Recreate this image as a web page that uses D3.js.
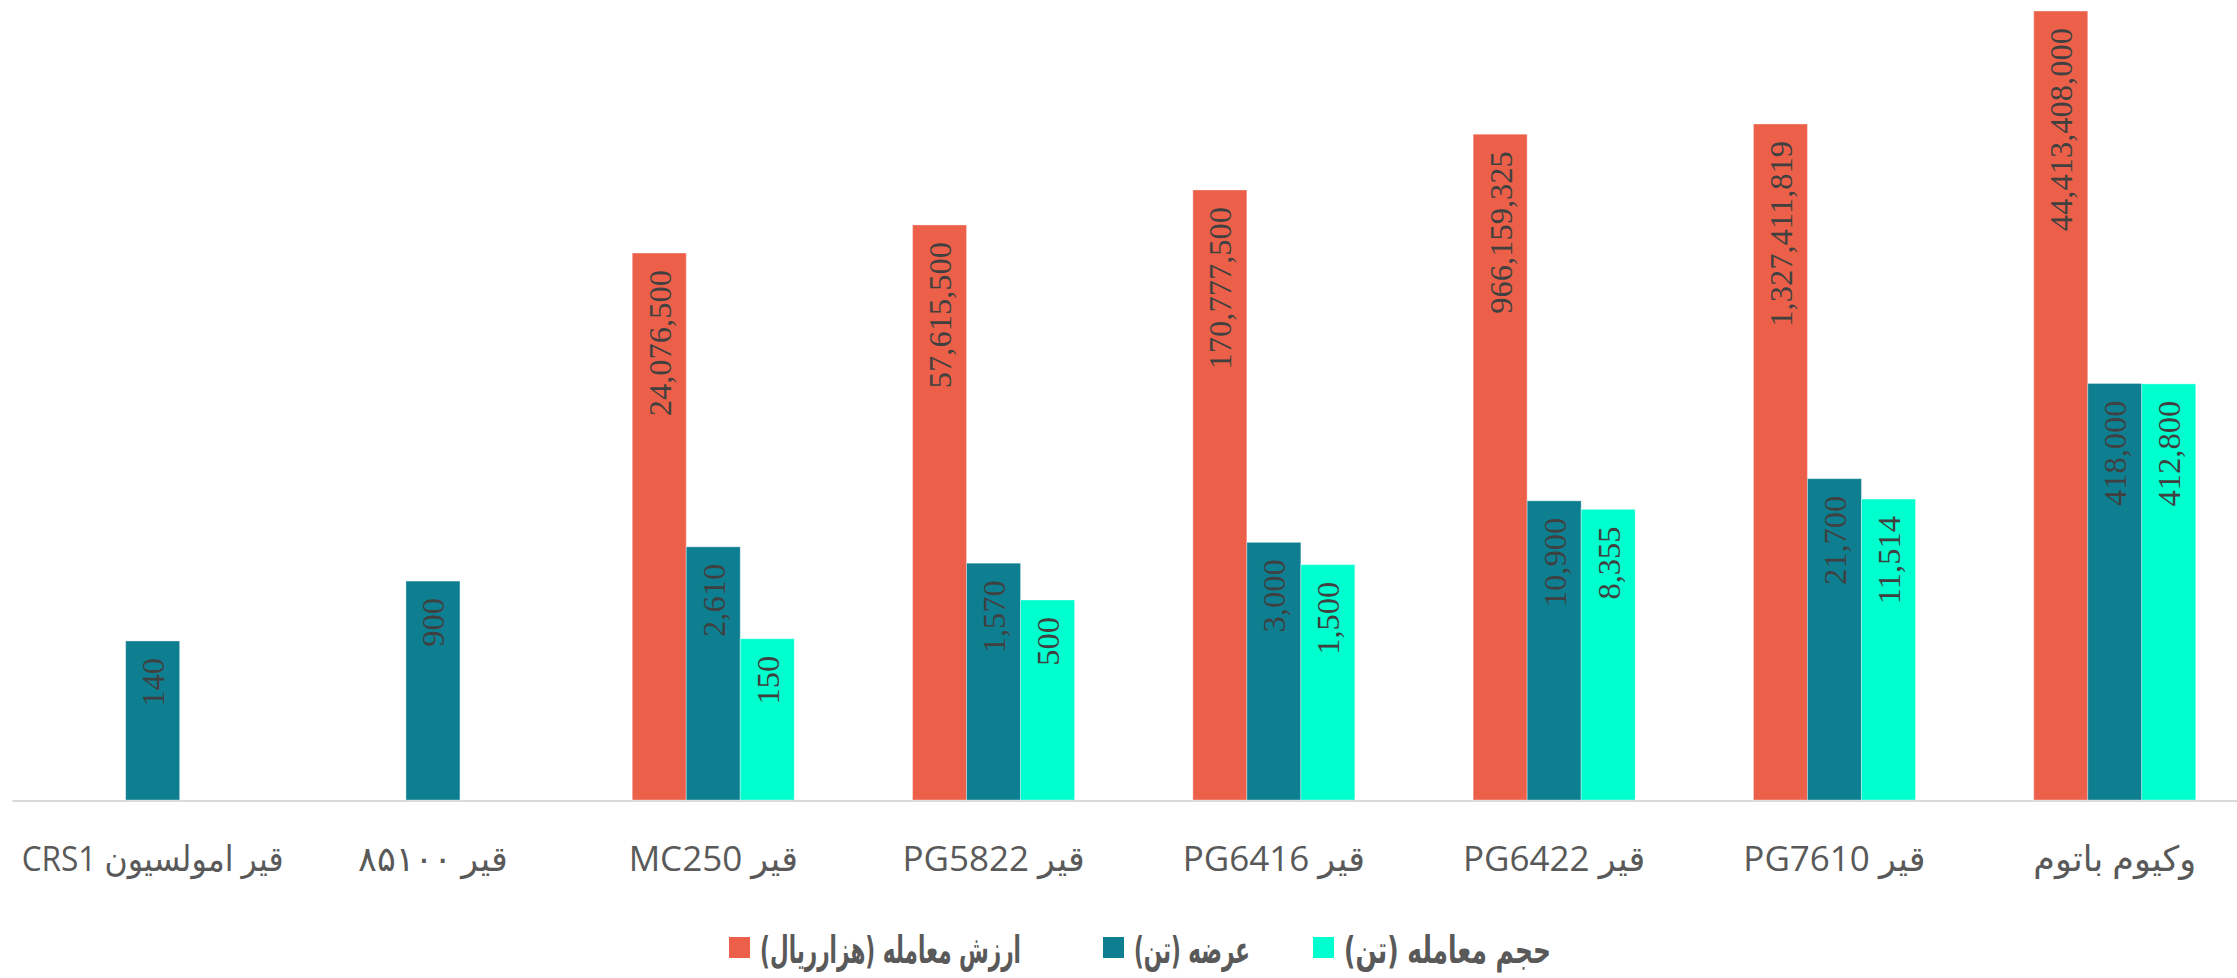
<!DOCTYPE html>
<html>
<head>
<meta charset="utf-8">
<script src="https://cdn.jsdelivr.net/npm/d3@7"></script>
<style>
  html, body { margin: 0; padding: 0; background: #ffffff; }
  svg { display: block; }
</style>
</head>
<body>
<svg id="chart" width="2237" height="978"></svg>
<script>
// ---- data ----
const categories = [
  "قیر امولسیون CRS1",
  "قیر ۸۵۱۰۰",
  "قیر MC250",
  "قیر PG5822",
  "قیر PG6416",
  "قیر PG6422",
  "قیر PG7610",
  "وکیوم باتوم"
];
const seriesNames = ["ارزش معامله (هزارریال)", "عرضه (تن)", "حجم معامله (تن)"];
const tradeValue = [null, null, 24076500, 57615500, 170777500, 966159325, 1327411819, 44413408000];
const supply     = [140, 900, 2610, 1570, 3000, 10900, 21700, 418000];
const tradeVolume = [null, null, 150, 500, 1500, 8355, 11514, 412800];
const seriesValues = [tradeValue, supply, tradeVolume];
const legendOrder = [0, 1, 2];

// ---- styles ----
const colors = ["#ec6049", "#0e7f91", "#00ffcf"];
const W = 2237, H = 978;
const baseY = 800;
const pxPerDecade = 74.1;
const plotLeft = 12.5, catStep = 280.3;
const barW = 54;

const svg = d3.select("#chart");

const x0 = d3.scaleBand()
  .domain(categories)
  .range([plotLeft, plotLeft + catStep * categories.length])
  .paddingInner(0).paddingOuter(0);

const groupW = barW * 3;
const x1 = d3.scaleBand()
  .domain(d3.range(seriesNames.length))
  .range([(catStep - groupW) / 2, (catStep - groupW) / 2 + groupW])
  .padding(0);

const y = d3.scaleLog()
  .domain([1, 1e11])
  .range([baseY, baseY - 11 * pxPerDecade]);

// flatten
const bars = [];
categories.forEach((c, i) => {
  seriesValues.forEach((arr, s) => {
    const v = arr[i];
    if (v != null) bars.push({ cat: c, s, v });
  });
});

// axis line
svg.append("line")
  .attr("x1", plotLeft).attr("x2", W)
  .attr("y1", baseY + 1).attr("y2", baseY + 1)
  .attr("stroke", "#d9d9d9").attr("stroke-width", 2);

// bars
svg.append("g").selectAll("rect").data(bars).join("rect")
  .attr("x", d => x0(d.cat) + x1(d.s))
  .attr("width", x1.bandwidth())
  .attr("y", d => y(d.v))
  .attr("height", d => baseY - y(d.v))
  .attr("fill", d => colors[d.s])
  .attr("stroke", "rgba(255,255,255,0.35)")
  .attr("stroke-width", 1);

// data labels
const fmt = d3.format(",");
svg.append("g").selectAll("text").data(bars).join("text")
  .attr("transform", d => {
    const cx = x0(d.cat) + x1(d.s) + x1.bandwidth() / 2;
    return `translate(${cx},${y(d.v) + 17}) rotate(-90)`;
  })
  .attr("text-anchor", "end")
  .attr("dy", "0.35em")
  .attr("font-family", "'Liberation Serif', 'Times New Roman', serif")
  .attr("font-size", 32.5)
  .attr("fill", "#404040")
  .text(d => fmt(d.v));

// category axis labels
const axisLabelW = [262, null, null, null, null, null, null, null];
svg.append("g").selectAll("text").data(categories).join("text")
  .attr("text-anchor", "middle")
  .attr("direction", "rtl")
  .attr("font-family", "'Open Sans', 'DejaVu Sans', sans-serif")
  .attr("font-size", 35)
  .attr("fill", "#595959")
  .text(d => d)
  .each(function(d, i) {
    const cx = x0(d) + x0.bandwidth() / 2;
    let sc = 1;
    if (axisLabelW[i]) sc = axisLabelW[i] / this.getComputedTextLength();
    d3.select(this).attr("transform", `translate(${cx},871) scale(${sc},1)`);
  });

// legend
const legendSquareX = [729, 1103, 1313];
const legendTextW = [261, 116, 207];
const lg = svg.append("g");
legendOrder.forEach((s, k) => {
  const sx = legendSquareX[k];
  lg.append("rect")
    .attr("x", sx).attr("y", 937)
    .attr("width", 21).attr("height", 21)
    .attr("fill", colors[s]);
  const t = lg.append("text")
    .attr("x", 0).attr("y", 0)
    .attr("text-anchor", "middle")
    .attr("direction", "rtl")
    .attr("font-family", "'DejaVu Sans', sans-serif")
    .attr("font-weight", "bold")
    .attr("font-size", 38)
    .attr("fill", "#595959")
    .text(seriesNames[s]);
  const len = t.node().getComputedTextLength();
  const sc = legendTextW[k] / len;
  const cx = sx + 31 + legendTextW[k] / 2;
  t.attr("transform", `translate(${cx},963) scale(${sc},1)`);
});
</script>
</body>
</html>
